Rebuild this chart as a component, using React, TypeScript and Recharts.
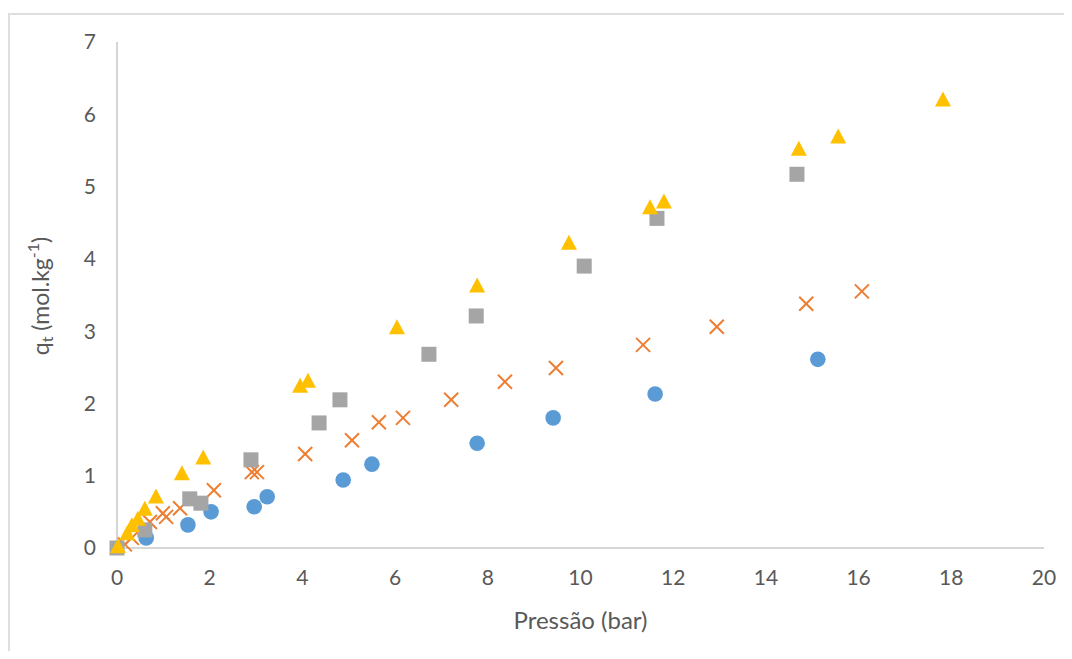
import { ScatterChart, Scatter, XAxis, YAxis } from 'recharts';

// pressure (bar) / uptake (mol/kg) for each adsorption series
const circleP = [0.63, 1.53, 2.03, 2.96, 3.24, 4.88, 5.5, 7.77, 9.41, 11.61, 15.12];
const circleQ = [0.14, 0.32, 0.5, 0.57, 0.71, 0.94, 1.16, 1.45, 1.8, 2.13, 2.61];

const crossP = [0.17, 0.32, 0.71, 0.99, 1.06, 1.36, 2.09, 2.91, 3.02, 4.06, 5.07, 5.65, 6.17, 7.21, 8.37, 9.47, 11.35, 12.94, 14.87, 16.07];
const crossQ = [0.05, 0.14, 0.36, 0.48, 0.43, 0.55, 0.8, 1.05, 1.05, 1.3, 1.49, 1.74, 1.8, 2.05, 2.3, 2.49, 2.81, 3.06, 3.38, 3.55];

const squareP = [0, 0.6, 1.57, 1.81, 2.89, 4.36, 4.81, 6.73, 7.75, 10.08, 11.65, 14.67];
const squareQ = [0, 0.25, 0.68, 0.62, 1.22, 1.73, 2.05, 2.68, 3.21, 3.9, 4.56, 5.17];

const triangleP = [0.02, 0.22, 0.32, 0.45, 0.6, 0.84, 1.4, 1.86, 3.95, 4.12, 6.04, 7.77, 9.75, 11.5, 11.8, 14.71, 15.56, 17.82];
const triangleQ = [0.03, 0.21, 0.32, 0.41, 0.55, 0.72, 1.04, 1.26, 2.25, 2.32, 3.06, 3.64, 4.23, 4.72, 4.8, 5.53, 5.7, 6.21];

const xTicks = [0, 2, 4, 6, 8, 10, 12, 14, 16, 18, 20];
const yTicks = [0, 1, 2, 3, 4, 5, 6, 7];

const toPoints = (p: number[], q: number[]) => p.map((x, i) => ({ x, y: q[i] }));

const FONT = 'Lato, "Noto Sans", sans-serif';
const TEXT = '#595959';

const CircleDot = (props: any) => <circle cx={props.cx} cy={props.cy} r={7.8} fill="#5B9BD5" />;

const CrossDot = (props: any) => {
  const { cx, cy } = props;
  const d = 7;
  return (
    <g stroke="#ED7D31" strokeWidth={2}>
      <line x1={cx - d} y1={cy - d} x2={cx + d} y2={cy + d} />
      <line x1={cx - d} y1={cy + d} x2={cx + d} y2={cy - d} />
    </g>
  );
};

const SquareDot = (props: any) => (
  <rect x={props.cx - 7.5} y={props.cy - 7.5} width={15} height={15} fill="#A5A5A5" />
);

const TriangleDot = (props: any) => {
  const { cx, cy } = props;
  return <polygon points={`${cx},${cy - 7.5} ${cx + 8},${cy + 7.5} ${cx - 8},${cy + 7.5}`} fill="#FFC000" />;
};

const YTitle = () => {
  const cx = 32;
  const cy = 288;
  return (
    <text
      x={cx}
      y={cy}
      transform={`rotate(-90, ${cx}, ${cy})`}
      textAnchor="middle"
      dominantBaseline="central"
      fill={TEXT}
      fontSize={23}
      fontFamily={FONT}
    >
      q
      <tspan dy={6} fontSize={16}>t</tspan>
      <tspan dy={-6}> (mol.kg</tspan>
      <tspan dy={-8} fontSize={16}>-1</tspan>
      <tspan dy={8}>)</tspan>
    </text>
  );
};

export default function App() {
  return (
    <div style={{ position: 'relative', width: 1064, height: 643, overflow: 'hidden', background: '#fff' }}>
      <div
        style={{
          position: 'absolute',
          left: 0,
          top: 5,
          width: 1100,
          height: 700,
          border: '2px solid #dedede',
          boxSizing: 'border-box',
        }}
      />
      <div style={{ position: 'absolute', left: 0, top: 0 }}>
        <ScatterChart width={1064} height={643} margin={{ top: 34, right: 28, left: 0, bottom: 0 }}>
          <XAxis
            type="number"
            dataKey="x"
            domain={[0, 20]}
            ticks={xTicks}
            interval={0}
            height={103}
            tickLine={false}
            tickMargin={16}
            axisLine={{ stroke: '#c8c8c8', strokeWidth: 1.5 }}
            tick={{ fill: TEXT, fontSize: 21, fontFamily: FONT }}
            label={{
              value: 'Pressão (bar)',
              position: 'insideBottom',
              offset: 22,
              fill: TEXT,
              fontSize: 24,
              fontFamily: FONT,
            }}
          />
          <YAxis
            type="number"
            dataKey="y"
            domain={[0, 7]}
            ticks={yTicks}
            interval={0}
            width={109}
            tickLine={false}
            tickMargin={15}
            axisLine={{ stroke: '#c8c8c8', strokeWidth: 1.5 }}
            tick={{ fill: TEXT, fontSize: 21, fontFamily: FONT }}
            label={<YTitle />}
          />
          <Scatter data={toPoints(circleP, circleQ)} shape={CircleDot} isAnimationActive={false} />
          <Scatter data={toPoints(crossP, crossQ)} shape={CrossDot} isAnimationActive={false} />
          <Scatter data={toPoints(squareP, squareQ)} shape={SquareDot} isAnimationActive={false} />
          <Scatter data={toPoints(triangleP, triangleQ)} shape={TriangleDot} isAnimationActive={false} />
        </ScatterChart>
      </div>
    </div>
  );
}
